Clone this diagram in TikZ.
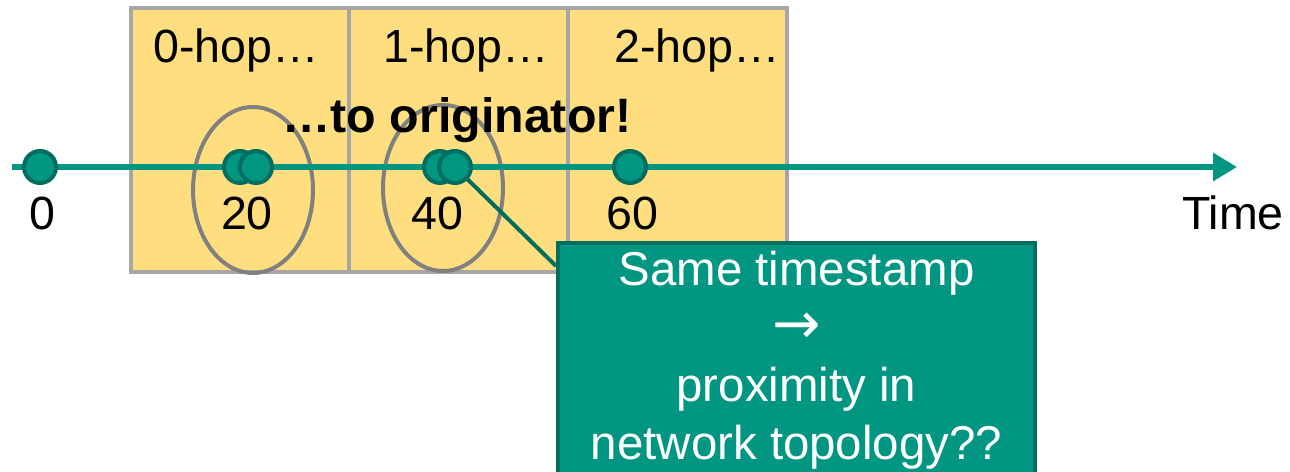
\documentclass[tikz,border=0pt]{standalone}
\usepackage{fontspec}
\setmainfont{Liberation Sans}
\newfontfamily\arrowfont{DejaVu Sans}
\usetikzlibrary{positioning,shapes,arrows.meta}
\definecolor{hopyellow}{RGB}{255,222,128}
\definecolor{hopgray}{RGB}{166,166,166}
\definecolor{ringgray}{RGB}{128,128,128}
\definecolor{tealfill}{RGB}{0,150,130}
\definecolor{tealdark}{RGB}{0,110,94}
\tikzset {
    style hop/.style={
        fill=hopyellow,
        draw=hopgray,
        line width=0.08cm,
        rectangle, % Set the shape as a rectangle
        minimum width=4.38cm,
        minimum height=5.28cm,
        inner sep=0pt,
        outer sep=0pt,
    },
    style dot/.style={
        fill=tealfill,
        draw=tealdark,
        line width=0.08cm,
        circle,
        minimum size=0.64cm,
        inner sep=0pt,
    },
    style ring/.style={
        draw=ringgray,
        line width=0.08cm,
        ellipse,
        minimum width=2.4cm,
        minimum height=3.32cm,
    },
    style note/.style={
        fill=tealfill,
        draw=tealdark,
        line width=0.08cm,
        text=white,
        rectangle, % Set the shape as a rectangle
        minimum width=9.54cm,
        minimum height=4.68cm,
        align=center,
        font=\fontsize{27}{33}\selectfont,
    },
}

\begin{document}
\begin{tikzpicture}
        [x=0.02cm, y=-0.02cm, font=\fontsize{26.5}{32}\selectfont]

        \useasboundingbox (0,0) rectangle (1290,472);

        % hop windows
        \node[style hop] at (240,140) (hop0) {};
        \node[style hop, right=0cm of hop0] (hop1) {};
        \node[style hop, right=0cm of hop1] (hop2) {};
        \node at (236,50) (lab0) {0-hop…};
        \node at (466,50) (lab1) {1-hop…};
        \node at (697,50) (lab2) {2-hop…};

        \node[style ring] at (253,190) (ring20) {};
        \node[style ring] at (443,188) (ring40) {};

        % time axis
        \coordinate (start) at (12,167);
        \coordinate (stop) at (1237,167);
        \draw[tealfill, line width=0.12cm, -{Triangle[length=0.48cm, width=0.54cm]}] (start) -- (stop);

        \node[style note] at (796.5,360) (note) {Same timestamp\\{\arrowfont\fontsize{33}{33}\selectfont →}\\proximity in\\network topology??};
        \coordinate (d40pin) at (455,167);
        \draw[tealdark, line width=0.08cm] (d40pin) -- ([yshift=-0.5cm]note.north west);

        \node[style dot] at (40,167) (d0) {};
        \node[style dot] at (240,167) (d20a) {};
        \node[style dot] at (256,167) (d20b) {};
        \node[style dot] at (440,167) (d40a) {};
        \node[style dot] at (455,167) (d40b) {};
        \node[style dot] at (630,167) (d60) {};

        \node at (42,213) (n0) {0};
        \node at (247,213) (n20) {20};
        \node at (437,213) (n40) {40};
        \node at (632,213) (n60) {60};
        \node at (1233,213) (time) {Time};

        \node[font=\fontsize{27.5}{32}\selectfont\bfseries] at (457,120) (orig) {…to originator!};
    \end{tikzpicture}
\end{document}
